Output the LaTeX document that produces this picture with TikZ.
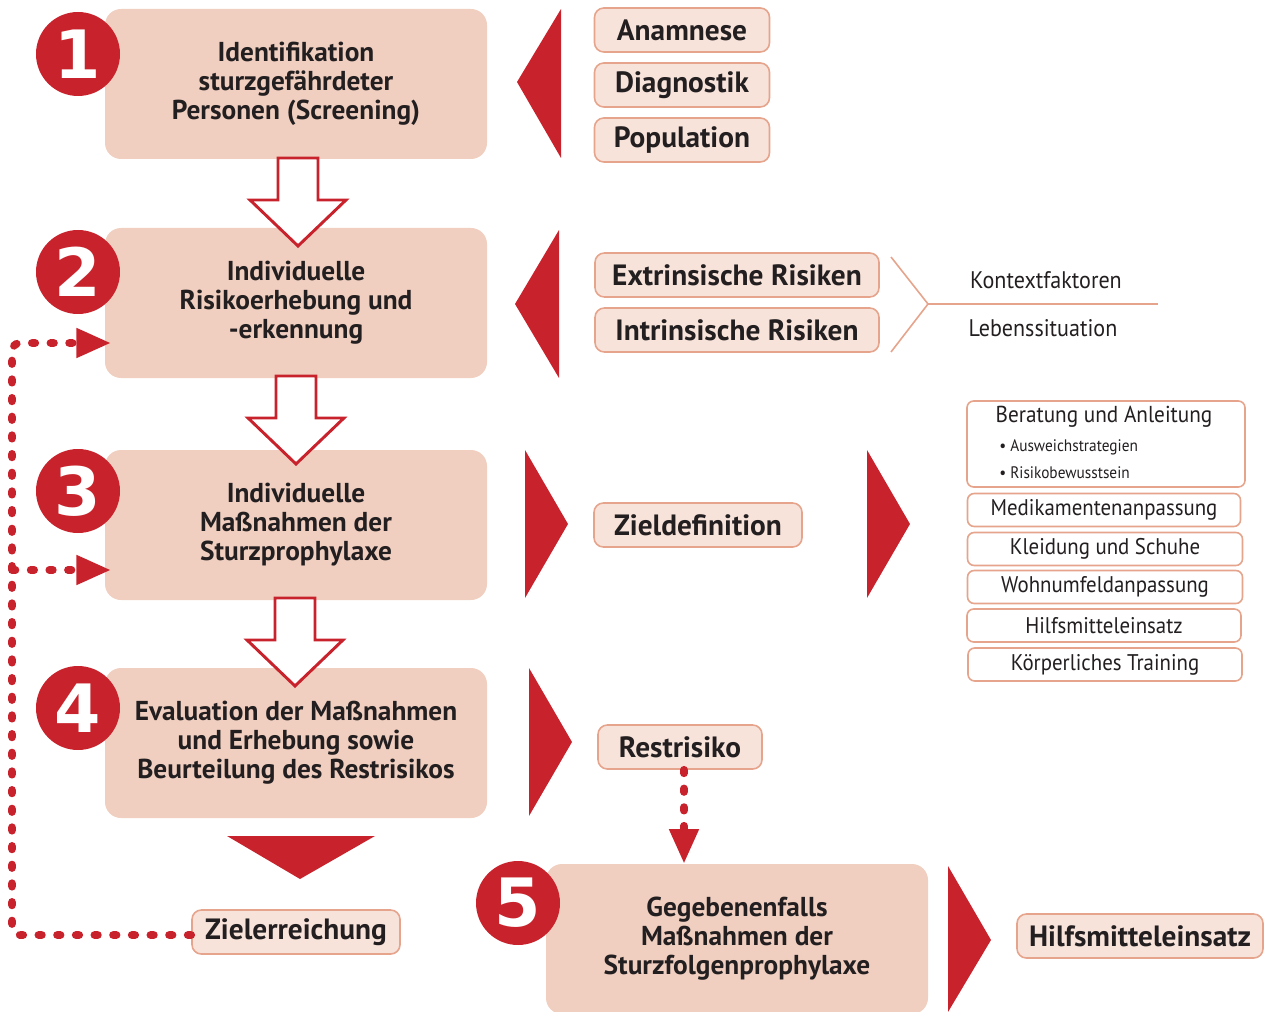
\documentclass[tikz,border=0pt]{standalone}
\usepackage{fontspec}
\setmainfont{PT Sans}
\newfontfamily\condfont{PT Sans}[FakeStretch=0.92]
\newfontfamily\numfont{DejaVu Sans}
\usetikzlibrary{arrows.meta}
\definecolor{myred}{HTML}{C8232C}
\definecolor{boxfill}{HTML}{F0CFC0}
\definecolor{lblfill}{HTML}{F8E3DB}
\definecolor{lblline}{HTML}{E5A48B}
\definecolor{txt}{HTML}{231F20}
\begin{document}
\begin{tikzpicture}[x=0.75pt,y=-0.75pt,
 mainbox/.style={fill=boxfill, rounded corners=12pt, minimum width=286.5pt, minimum height=112.5pt, inner sep=0pt, align=center, text=txt, font=\bfseries\fontsize{20.5pt}{21.75pt}\selectfont},
 numcirc/.style={circle, fill=myred, minimum size=63pt, inner sep=0pt, text=white, font=\numfont\bfseries\fontsize{50pt}{50pt}\selectfont},
 lbl/.style={draw=lblline, fill=lblfill, line width=1.2pt, rounded corners=7pt, minimum height=33pt, inner sep=0pt, text=txt, font=\bfseries\fontsize{22pt}{22pt}\selectfont},
 item/.style={draw=lblline, fill=white, line width=1.2pt, rounded corners=5pt, minimum width=205.5pt, minimum height=24.75pt, inner sep=0pt, text=txt, font=\condfont\fontsize{17pt}{17pt}\selectfont},
 plain/.style={text=txt, inner sep=0pt, font=\condfont\fontsize{18pt}{18pt}\selectfont},
 small/.style={text=txt, inner sep=0pt, anchor=west, font=\condfont\fontsize{12.5pt}{12.5pt}\selectfont},
 dotline/.style={myred, line width=5.8pt, line cap=round, dash pattern=on 2.6pt off 11.4pt},
 dottip/.style={-{Triangle[length=26pt,width=21pt]}},
 hollowarrow/.pic={\draw[myred, line width=2.2pt, fill=white, miter limit=10] (-20,0) -- (20,0) -- (20,42) -- (48,42) -- (0,88) -- (-48,42) -- (-20,42) -- cycle;},
 bracket/.style={lblline, line width=1.2pt}
]
\useasboundingbox (0,0) rectangle (1270,1012);

% main boxes
\node[mainbox] (b1) at (296,84) {Identifikation\\sturzgefährdeter\\Personen (Screening)};
\node[mainbox] (b2) at (296,303) {Individuelle\\Risikoerhebung und\\-erkennung};
\node[mainbox] (b3) at (296,525) {Individuelle\\Maßnahmen der\\Sturzprophylaxe};
\node[mainbox] (b4) at (296,743) {Evaluation der Maßnahmen\\und Erhebung sowie\\Beurteilung des Restrisikos};
\node[mainbox] (b5) at (737,939) {Gegebenenfalls\\Maßnahmen der\\Sturzfolgenprophylaxe};

% hollow arrows between boxes
\pic at (298,158) {hollowarrow};
\pic at (296,376) {hollowarrow};
\pic at (295,598) {hollowarrow};

% number circles
\node[numcirc] (n1) at (78,54) {1};
\node[numcirc] (n2) at (78,272) {2};
\node[numcirc] (n3) at (78,491) {3};
\node[numcirc] (n4) at (78,708) {4};
\node[numcirc] (n5) at (518,903) {5};

% red triangles
\fill[myred] (561,9) -- (561,158) -- (517,82) -- cycle;
\fill[myred] (559,230) -- (559,378) -- (515,304) -- cycle;
\fill[myred] (525,450) -- (525,598) -- (568,524) -- cycle;
\fill[myred] (867,450) -- (867,598) -- (910,524) -- cycle;
\fill[myred] (529,668) -- (529,816) -- (572,742) -- cycle;
\fill[myred] (948,866) -- (948,1012) -- (991,940) -- cycle;
\fill[myred] (227,836) -- (375,836) -- (300,879) -- cycle;

% labels
\node[lbl, minimum width=131.25pt] (an) at (682,30) {Anamnese};
\node[lbl, minimum width=131.25pt] (di) at (682,85) {Diagnostik};
\node[lbl, minimum width=131.25pt] (po) at (682,140) {Population};
\node[lbl, minimum width=213pt] (ex) at (737,275) {Extrinsische Risiken};
\node[lbl, minimum width=213pt] (in) at (737,330) {Intrinsische Risiken};
\node[lbl, minimum width=156pt] (zd) at (698,525) {Zieldefinition};
\node[lbl, minimum width=123pt] (rr) at (680,747) {Restrisiko};
\node[lbl, minimum width=156pt] (zr) at (296,932) {Zielerreichung};
\node[lbl, minimum width=184.5pt] (hm) at (1140,936) {Hilfsmitteleinsatz};

% bracket
\coordinate (k1) at (891,257);
\coordinate (k2) at (928,304);
\coordinate (k3) at (891,352);
\coordinate (k4) at (1158,304);
\draw[bracket] (k1) -- (k2) -- (k3);
\draw[bracket] (k2) -- (k4);
\node[plain] (kf) at (1046,280) {Kontextfaktoren};
\node[plain] (ls) at (1043,328) {Lebenssituation};

% list of measures
\node[item, minimum width=208.5pt, minimum height=64.5pt] (be) at (1106,444) {};
\node[plain, font=\condfont\fontsize{17.3pt}{17.3pt}\selectfont] (bt) at (1104,417) {Beratung und Anleitung};
\node[small] (s1) at (999,447) {\textbullet\ Ausweichstrategien};
\node[small] (s2) at (999,473) {\textbullet\ Risikobewusstsein};
\node[item, minimum width=204.75pt] (me) at (1104,510) {Medikamentenanpassung};
\node[item, minimum width=206.25pt] (kl) at (1105,549) {Kleidung und Schuhe};
\node[item, minimum width=206.25pt] (wo) at (1105,587) {Wohnumfeldanpassung};
\node[item] (hi) at (1104,625.5) {Hilfsmitteleinsatz};
\node[item] (ko) at (1105,664.5) {Körperliches Training};

% dotted feedback connectors
\coordinate (c1) at (12,935);
\coordinate (c2) at (12,343);
\coordinate (t2) at (111,343);
\coordinate (c3) at (12,570);
\coordinate (t3) at (111,570);
\draw[dotline, dottip, rounded corners=6pt] (zr.west |- c1) -- (c1) -- (c2) -- (t2);
\draw[dotline, dottip] (c3) -- (t3);
\draw[dotline, dottip] ([xshift=3pt]rr.south) -- ([xshift=3pt]rr.south |- b5.north);
\end{tikzpicture}
\end{document}
